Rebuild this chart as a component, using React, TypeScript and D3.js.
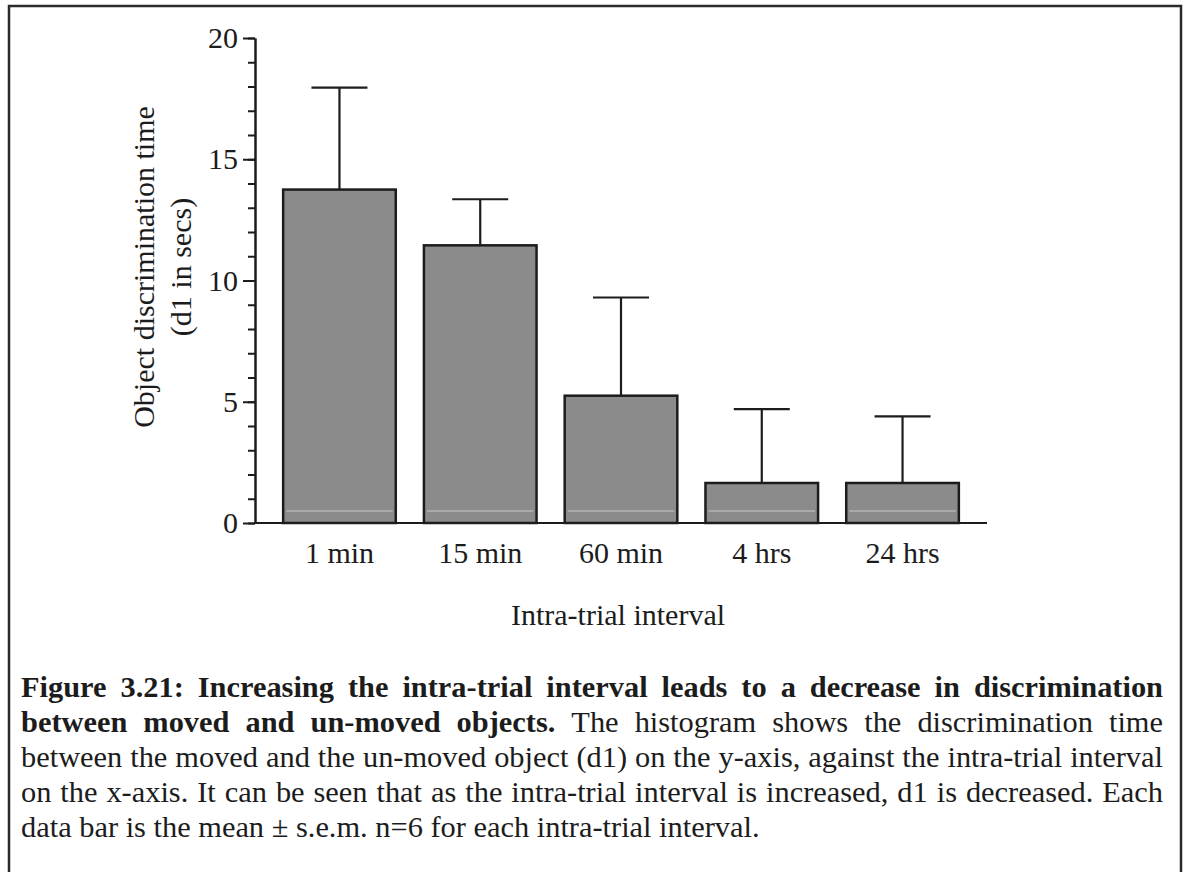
import React, { useRef, useEffect } from "react";
import * as d3 from "d3";

// data
const intervals = ["1 min", "15 min", "60 min", "4 hrs", "24 hrs"];
const meanD1 = [13.75, 11.45, 5.25, 1.65, 1.65];
const semD1 = [4.2, 1.9, 4.05, 3.05, 2.75];
const majorTicks = [0, 5, 10, 15, 20];
const yLabelLines = ["Object discrimination time", "(d1 in secs)"];
const xLabel = "Intra-trial interval";

const captionLines = [
  { segs: [{ t: "Figure 3.21: Increasing the intra-trial interval leads to a decrease in discrimination", b: true }], justify: true },
  { segs: [{ t: "between moved and un-moved objects.", b: true }, { t: "The histogram shows the discrimination time", b: false }], justify: true },
  { segs: [{ t: "between the moved and the un-moved object (d1) on the y-axis, against the intra-trial interval", b: false }], justify: true },
  { segs: [{ t: "on the x-axis. It can be seen that as the intra-trial interval is increased, d1 is decreased. Each", b: false }], justify: true },
  { segs: [{ t: "data bar is the mean ± s.e.m. n=6 for each intra-trial interval.", b: false }], justify: false },
];

const FONT = "'Liberation Serif', 'Times New Roman', serif";
const INK = "#1c1c1c";

export default function App() {
  const svgRef = useRef<SVGSVGElement>(null);

  useEffect(() => {
    if (!svgRef.current) return;
    const svg = d3.select(svgRef.current);
    svg.selectAll("*").remove();

    // frame of the scanned page
    svg.append("rect")
      .attr("x", 9).attr("y", 6)
      .attr("width", 1172).attr("height", 900)
      .attr("fill", "none").attr("stroke", "#2a2a2a").attr("stroke-width", 2.5);

    const y = d3.scaleLinear().domain([0, 20]).range([523, 38]);
    const x = d3.scaleBand<string>().domain(intervals).range([255, 987])
      .paddingInner(0.2).paddingOuter(0.2);

    const g = svg.append("g");

    // bars
    g.selectAll("rect.bar")
      .data(meanD1)
      .join("rect")
      .attr("class", "bar")
      .attr("x", (_, i) => x(intervals[i])!)
      .attr("y", d => y(d))
      .attr("width", x.bandwidth())
      .attr("height", d => y(0) - y(d))
      .attr("fill", "#8b8b8b")
      .attr("stroke", INK)
      .attr("stroke-width", 2.5);

    // faint scan stripe near the bottom of each bar
    g.selectAll("line.stripe")
      .data(meanD1)
      .join("line")
      .attr("x1", (_, i) => x(intervals[i])! + 3)
      .attr("x2", (_, i) => x(intervals[i])! + x.bandwidth() - 3)
      .attr("y1", y(0.5)).attr("y2", y(0.5))
      .attr("stroke", "#b4b4b4").attr("stroke-width", 1.5);

    // error bars (upper only)
    const capW = 56;
    meanD1.forEach((m, i) => {
      const cx = x(intervals[i])! + x.bandwidth() / 2;
      g.append("line")
        .attr("x1", cx).attr("x2", cx)
        .attr("y1", y(m)).attr("y2", y(m + semD1[i]))
        .attr("stroke", INK).attr("stroke-width", 2.2);
      g.append("line")
        .attr("x1", cx - capW / 2).attr("x2", cx + capW / 2)
        .attr("y1", y(m + semD1[i])).attr("y2", y(m + semD1[i]))
        .attr("stroke", INK).attr("stroke-width", 2.2);
    });

    // y axis: minor ticks each unit, major every 5
    const minorAxis = d3.axisLeft(y).tickValues(d3.range(0, 21)).tickSize(7).tickSizeOuter(0).tickFormat(() => "");
    const majorAxis = d3.axisLeft(y).tickValues(majorTicks).tickSize(12).tickSizeOuter(0).tickPadding(5);
    const ay1 = g.append("g").attr("transform", "translate(255,0)").call(minorAxis);
    const ay2 = g.append("g").attr("transform", "translate(255,0)").call(majorAxis);
    [ay1, ay2].forEach(a => {
      a.selectAll("path,line").attr("stroke", INK).attr("stroke-width", 2);
    });
    ay2.selectAll("text")
      .attr("font-family", FONT).attr("font-size", 30).attr("fill", INK);

    // x axis baseline
    g.append("line")
      .attr("x1", 255).attr("x2", x.range()[1])
      .attr("y1", y(0)).attr("y2", y(0))
      .attr("stroke", INK).attr("stroke-width", 2);

    g.selectAll("text.xlab")
      .data(intervals)
      .join("text")
      .attr("class", "xlab")
      .attr("x", d => x(d)! + x.bandwidth() / 2)
      .attr("y", 563)
      .attr("text-anchor", "middle")
      .attr("font-family", FONT).attr("font-size", 30).attr("fill", INK)
      .text(d => d);

    g.append("text")
      .attr("x", 618).attr("y", 625)
      .attr("text-anchor", "middle")
      .attr("font-family", FONT).attr("font-size", 30).attr("fill", INK)
      .text(xLabel);

    // y label, two rotated lines
    yLabelLines.forEach((t, i) => {
      const bx = 154 + i * 37;
      g.append("text")
        .attr("transform", `translate(${bx},267) rotate(-90)`)
        .attr("text-anchor", "middle")
        .attr("font-family", FONT).attr("font-size", 30).attr("fill", INK)
        .text(t);
    });

    // caption, justified by hand
    const left = 21, right = 1163, fs = 30.4;
    captionLines.forEach((ln, li) => {
      const base = 697 + li * 35;
      const words = ln.segs.flatMap(s => s.t.split(" ").map(w => ({ w, b: s.b })));
      const nodes = words.map(wd =>
        svg.append("text")
          .attr("y", base)
          .attr("font-family", FONT).attr("font-size", fs)
          .attr("font-weight", wd.b ? "bold" : "normal")
          .attr("fill", INK)
          .text(wd.w)
      );
      const widths = nodes.map(n => (n.node() as SVGTextElement).getComputedTextLength());
      const total = d3.sum(widths);
      const gap = ln.justify ? (right - left - total) / (words.length - 1) : fs * 0.25;
      let cx = left;
      nodes.forEach((n, k) => {
        n.attr("x", cx);
        cx += widths[k] + gap;
      });
    });
  }, []);

  return (
    <div style={{ position: "absolute", left: 0, top: 0, background: "#fff" }}>
      <svg ref={svgRef} width={1187} height={872} style={{ display: "block" }} />
    </div>
  );
}
